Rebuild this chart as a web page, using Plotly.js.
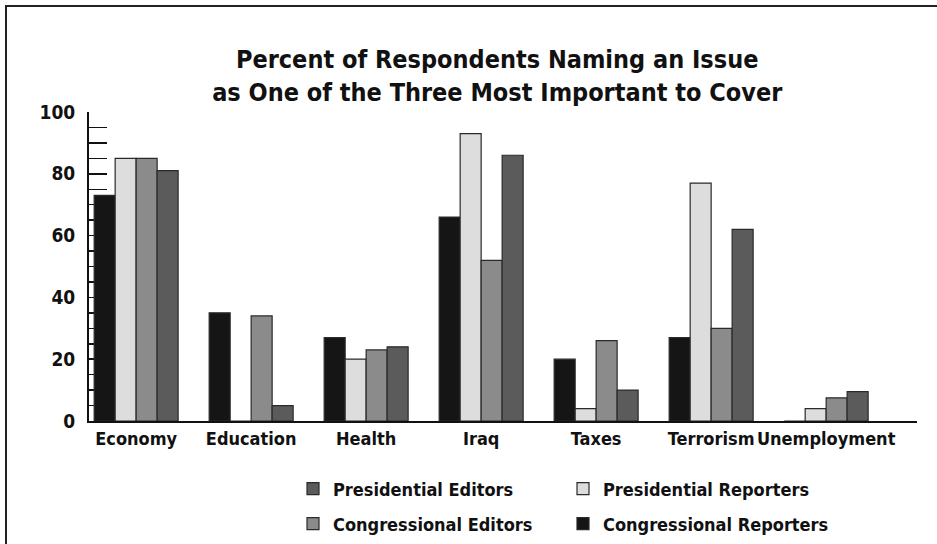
<!DOCTYPE html>
<html>
<head>
<meta charset="utf-8">
<script src="https://cdn.plot.ly/plotly-3.0.1.min.js"></script>
<style>
  html, body { margin: 0; padding: 0; background: #fff; }
  #wrap { position: relative; width: 937px; height: 544px; overflow: hidden; }
  #chart { width: 937px; height: 544px; }
  #frame { position: absolute; left: 5px; top: 5px; width: 960px; height: 580px;
           border-left: 2px solid #222; border-top: 2px solid #222; pointer-events: none; }
</style>
</head>
<body>
<div id="wrap"><div id="chart"></div><div id="frame"></div></div>
<script>
// ---- data ----
const issues = ["Economy", "Education", "Health", "Iraq", "Taxes", "Terrorism", "Unemployment"];
const congressionalReporters = [73, 35, 27, 66, 20, 27, 0];
const presidentialReporters  = [85, 0, 20, 93, 4, 77, 4];
const congressionalEditors   = [85, 34, 23, 52, 26, 30, 7.5];
const presidentialEditors    = [81, 5, 24, 86, 10, 62, 9.5];
const yTickValues = [0, 20, 40, 60, 80, 100];

const FONT = "'DejaVu Sans Condensed', 'Liberation Sans Narrow', 'Arial Narrow', sans-serif";

function bar(name, y, color, legend) {
  return {
    type: 'bar', name: name, x: issues, y: y,
    marker: { color: color, line: { color: '#2a2a2a', width: 1.2 } },
    legend: legend, hoverinfo: 'x+y+name'
  };
}

const traces = [
  bar('Congressional Reporters', congressionalReporters, '#151515', 'legend4'),
  bar('Presidential Reporters', presidentialReporters, '#dcdddc', 'legend2'),
  bar('Congressional Editors', congressionalEditors, '#8a8b8a', 'legend3'),
  bar('Presidential Editors', presidentialEditors, '#5a5b5a', 'legend')
];

function leg(xpx, ypx) {
  return {
    xref: 'container', yref: 'container',
    x: xpx / 937, y: 1 - ypx / 544, xanchor: 'left', yanchor: 'middle',
    bgcolor: 'rgba(0,0,0,0)', borderwidth: 0,
    font: { family: FONT, size: 18, color: '#111', weight: 'bold' },
    itemwidth: 30
  };
}

const layout = {
  width: 937, height: 544,
  margin: { l: 89, r: 20, t: 112, b: 123, pad: 0, autoexpand: false },
  paper_bgcolor: '#ffffff', plot_bgcolor: '#ffffff',
  font: { family: FONT, color: '#111', weight: 'bold' },
  title: {
    text: 'Percent of Respondents Naming an Issue<br>as One of the Three Most Important to Cover',
    font: { family: FONT, size: 25, color: '#111', weight: 'bold' },
    xref: 'paper', x: 0.493, xanchor: 'center',
    yref: 'container', y: 1 - 68 / 544, yanchor: 'top'
  },
  barmode: 'group', bargap: 0.27, bargroupgap: 0,
  xaxis: {
    type: 'category', range: [-0.41, 6.79], automargin: false,
    showline: true, linecolor: '#111', linewidth: 2,
    ticks: '', showgrid: false, zeroline: false, tickangle: 0,
    tickfont: { family: FONT, size: 18, color: '#111', weight: 'bold' },
    fixedrange: true
  },
  yaxis: {
    range: [yTickValues[0], yTickValues[yTickValues.length - 1]], automargin: false,
    tickmode: 'linear', tick0: yTickValues[0], dtick: yTickValues[1] - yTickValues[0],
    showline: true, linecolor: '#111', linewidth: 2,
    ticks: 'inside', ticklen: 18, tickwidth: 1.5, tickcolor: '#111',
    minor: { tickmode: 'linear', tick0: 0, dtick: 5, ticks: 'inside', ticklen: 18, tickwidth: 1.5, tickcolor: '#111' },
    showgrid: false, zeroline: false, layer: 'below traces',
    tickfont: { family: FONT, size: 19, color: '#111', weight: 'bold' },
    ticklabelstandoff: 8,
    fixedrange: true
  },
  legend: leg(293, 489),
  legend2: leg(563, 489),
  legend3: leg(293, 524),
  legend4: leg(563, 524),
  showlegend: true
};

Plotly.newPlot('chart', traces, layout, { displayModeBar: false, staticPlot: true });
</script>
</body>
</html>
